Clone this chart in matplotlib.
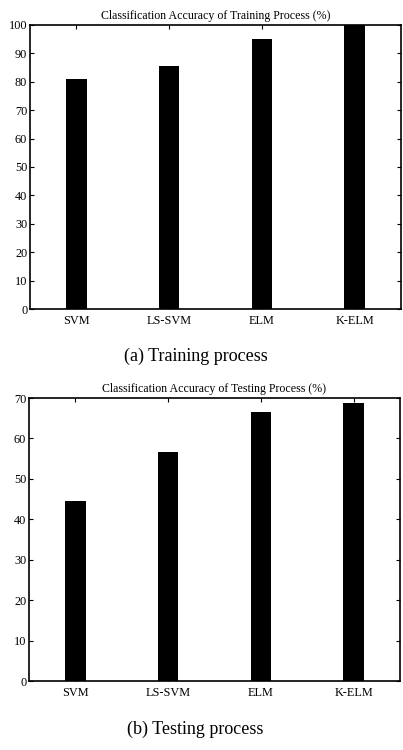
import matplotlib
matplotlib.use('Agg')
import matplotlib.pyplot as plt

# data
methods = ['SVM', 'LS-SVM', 'ELM', 'K-ELM']
train_acc = [81.0, 85.7, 95.2, 100.0]
test_acc = [44.5, 56.7, 66.5, 68.8]

plt.rcParams['font.family'] = ['Liberation Serif', 'DejaVu Serif']

fig = plt.figure(figsize=(4.03, 7.5), dpi=100)
ax1 = fig.add_axes([0.0744, 0.588, 0.9206, 0.3787])
ax2 = fig.add_axes([0.072, 0.092, 0.9206, 0.3773])

pos = [1, 2, 3, 4]
panels = [(ax1, train_acc, 'Classification Accuracy of Training Process (%)', 100, 10),
          (ax2, test_acc, 'Classification Accuracy of Testing Process (%)', 70, 10)]

for ax, vals, title, ymax, step in panels:
    ax.bar(pos, vals, width=0.22, color='black')
    ax.set_xlim(0.5, 4.5)
    ax.set_ylim(0, ymax)
    ax.set_yticks(range(0, ymax + 1, step))
    ax.set_xticks(pos)
    ax.set_xticklabels(methods)
    ax.tick_params(direction='in', top=True, right=True, labelsize=8.8,
                   length=3, width=0.8, pad=2)
    ax.tick_params(axis='x', pad=4)
    for s in ax.spines.values():
        s.set_linewidth(1.2)
    ax.set_title(title, fontsize=8.6, pad=4)

fig.text(0.485, 0.525, '(a) Training process', ha='center', va='center', fontsize=13)
fig.text(0.485, 0.028, '(b) Testing process', ha='center', va='center', fontsize=13)

fig.savefig('out.png', dpi=100)
